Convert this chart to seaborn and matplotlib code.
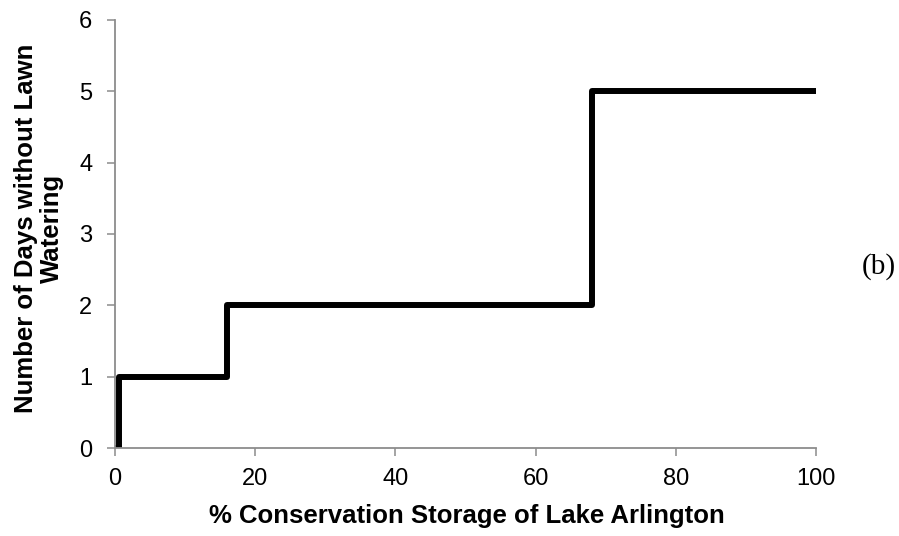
import matplotlib
matplotlib.use("Agg")
import matplotlib.pyplot as plt
import seaborn as sns
import pandas as pd

# Lawn watering restriction schedule vs. reservoir storage
storage_pct = [0, 0.5, 16, 68, 100]
days_without_watering = [0, 1, 2, 5, 5]

x_ticks = [0, 20, 40, 60, 80, 100]
y_ticks = [0, 1, 2, 3, 4, 5, 6]

sns.set_theme(style="white")
plt.rcParams["font.family"] = ["Liberation Sans", "DejaVu Sans"]
plt.rcParams["text.color"] = "black"
plt.rcParams["axes.labelcolor"] = "black"
plt.rcParams["xtick.labelcolor"] = "black"
plt.rcParams["ytick.labelcolor"] = "black"

df = pd.DataFrame({"storage": storage_pct, "days": days_without_watering})

fig = plt.figure(figsize=(8.99, 5.36), dpi=100)
ax = fig.add_axes([0.128, 0.164, 0.7797, 0.799])

sns.lineplot(data=df, x="storage", y="days", ax=ax, color="black",
             linewidth=4.3, drawstyle="steps-post", estimator=None,
             sort=False, solid_capstyle="round", solid_joinstyle="round")

ax.set_xlim(0, 100)
ax.set_ylim(0, 6)
ax.set_xticks(x_ticks)
ax.set_yticks(y_ticks)
ax.tick_params(axis="both", which="major", labelsize=17, length=6,
               width=1.1, color="#8c8c8c", direction="out",
               bottom=True, left=True)
ax.tick_params(axis="x", pad=8.5)
ax.tick_params(axis="y", pad=10.5)

for side in ("top", "right"):
    ax.spines[side].set_visible(False)
for side in ("left", "bottom"):
    ax.spines[side].set_color("#8c8c8c")
    ax.spines[side].set_linewidth(1.3)

ax.set_xlabel("% Conservation Storage of Lake Arlington",
              fontsize=18.5, fontweight="bold")
ax.xaxis.set_label_coords(0.502, -0.131)
ax.set_ylabel("Number of Days without Lawn\nWatering",
              fontsize=18.5, fontweight="bold", linespacing=1.08)
ax.yaxis.set_label_coords(-0.073, 0.514)

fig.text(0.977, 0.502, "(b)", fontsize=21,
         family=["Liberation Serif", "DejaVu Serif"], ha="center", va="center")

fig.savefig("out.png", dpi=100)
